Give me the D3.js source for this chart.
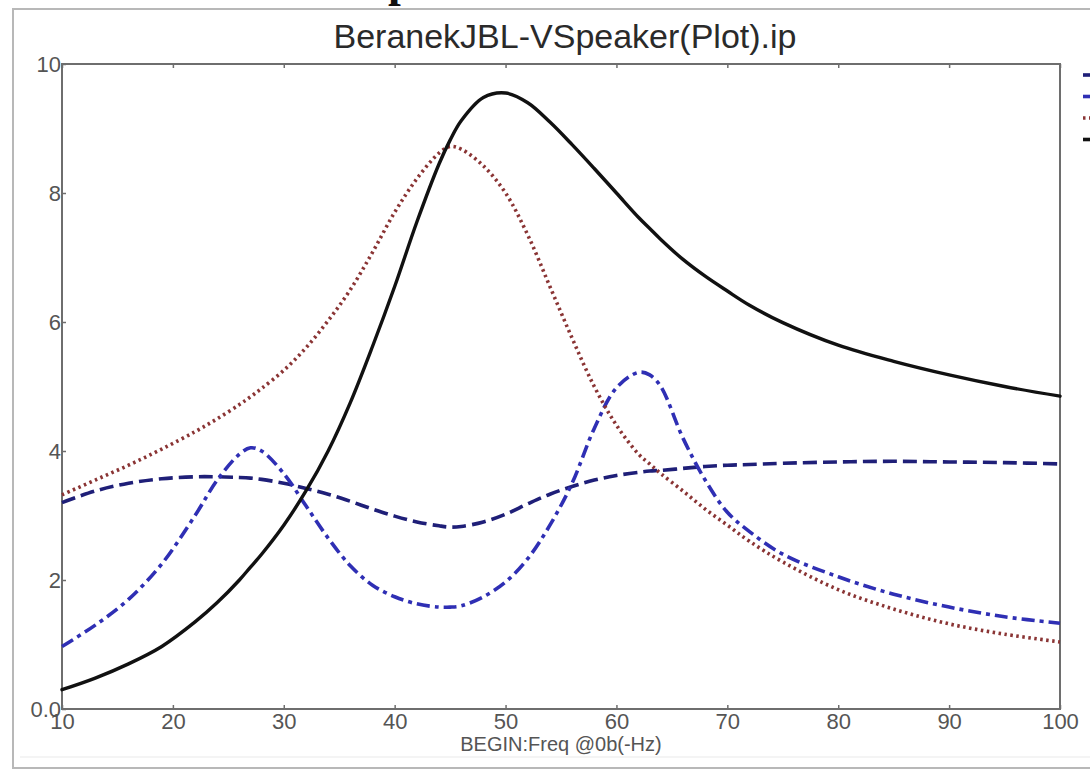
<!DOCTYPE html>
<html>
<head>
<meta charset="utf-8">
<script src="https://cdn.jsdelivr.net/npm/d3@7"></script>
<style>
  html, body { margin: 0; padding: 0; background: #fff; }
  svg { display: block; }
  text { font-family: "Liberation Sans", Arial, sans-serif; }
</style>
</head>
<body>
<svg id="chart" width="1090" height="770"></svg>
<script>
// Frequency axis (Hz) and the four plotted responses
const freq = [10, 13, 16, 19, 22, 24, 26, 27, 28, 30, 32, 34, 36, 38, 40, 42, 44, 45, 46, 48, 50, 52, 54, 56, 58, 60, 62, 63, 64, 66, 68, 70, 72, 75, 80, 85, 90, 95, 100];

const seriesDashed = [3.20, 3.38, 3.50, 3.57, 3.60, 3.60, 3.59, 3.58, 3.56, 3.50, 3.42, 3.33, 3.22, 3.10, 2.99, 2.90, 2.84, 2.82, 2.83, 2.90, 3.02, 3.18, 3.33, 3.45, 3.55, 3.62, 3.67, 3.69, 3.70, 3.73, 3.76, 3.78, 3.79, 3.81, 3.83, 3.84, 3.83, 3.82, 3.80];

const seriesDashDot = [0.97, 1.30, 1.70, 2.25, 3.00, 3.55, 3.95, 4.05, 4.00, 3.65, 3.15, 2.65, 2.22, 1.92, 1.74, 1.63, 1.58, 1.58, 1.60, 1.74, 1.97, 2.33, 2.85, 3.50, 4.35, 4.98, 5.22, 5.18, 5.00, 4.20, 3.55, 3.05, 2.75, 2.40, 2.05, 1.78, 1.58, 1.43, 1.33];

const seriesDotted = [3.32, 3.55, 3.78, 4.03, 4.30, 4.50, 4.72, 4.84, 4.97, 5.25, 5.60, 6.02, 6.50, 7.08, 7.70, 8.22, 8.62, 8.72, 8.68, 8.42, 8.00, 7.35, 6.55, 5.75, 5.00, 4.40, 3.95, 3.80, 3.65, 3.38, 3.10, 2.85, 2.60, 2.28, 1.85, 1.55, 1.32, 1.16, 1.04];

const seriesSolid = [0.30, 0.48, 0.70, 0.97, 1.35, 1.65, 2.00, 2.20, 2.40, 2.85, 3.38, 4.00, 4.75, 5.62, 6.55, 7.55, 8.45, 8.82, 9.12, 9.48, 9.55, 9.40, 9.10, 8.75, 8.38, 8.00, 7.62, 7.45, 7.28, 6.97, 6.71, 6.48, 6.26, 5.99, 5.64, 5.39, 5.18, 5.00, 4.85];

const xTicks = [10, 20, 30, 40, 50, 60, 70, 80, 90, 100];
const yTicks = [0, 2, 4, 6, 8, 10];
const yTickLabels = ["0.0", "2", "4", "6", "8", "10"];

const titleText = "BeranekJBL-VSpeaker(Plot).ip";
const xTitleText = "BEGIN:Freq @0b(-Hz)";

const svg = d3.select("#chart");

// Outer panel frame
svg.append("rect")
  .attr("x", 13).attr("y", 9)
  .attr("width", 1100).attr("height", 759)
  .attr("fill", "#fff")
  .attr("stroke", "#b8b8b8").attr("stroke-width", 2);
svg.append("line")
  .attr("x1", 20).attr("x2", 1090).attr("y1", 757).attr("y2", 757)
  .attr("stroke", "#f0f0f0").attr("stroke-width", 1.5);

// Fragment of text running off the top edge
svg.append("text")
  .attr("x", 388).attr("y", -4)
  .style("font-family", "'Liberation Serif', serif")
  .style("font-size", "46px").style("font-weight", "bold")
  .attr("fill", "#111")
  .text("p");

const x = d3.scaleLinear().domain([10, 100]).range([62, 1060]);
const y = d3.scaleLinear().domain([0, 10]).range([709, 64]);

const axisColor = "#6e6e6e";
const labelColor = "#555";

// Plot box
svg.append("rect")
  .attr("x", x(10)).attr("y", y(10))
  .attr("width", x(100) - x(10)).attr("height", y(0) - y(10))
  .attr("fill", "none").attr("stroke", axisColor).attr("stroke-width", 2);

// Bottom axis: small inward ticks, labels below
const xAxisB = svg.append("g").attr("transform", `translate(0,${y(0)})`)
  .call(d3.axisBottom(x).tickValues(xTicks).tickSize(-4).tickPadding(4).tickFormat(d3.format("d")));
// Top axis ticks
const xAxisT = svg.append("g").attr("transform", `translate(0,${y(10)})`)
  .call(d3.axisTop(x).tickValues(xTicks).tickSize(-4).tickFormat(""));
// Left axis
const yAxisL = svg.append("g").attr("transform", `translate(${x(10)},0)`)
  .call(d3.axisLeft(y).tickValues(yTicks).tickSize(-4).tickPadding(1)
    .tickFormat((d, i) => yTickLabels[i]));

[xAxisB, xAxisT, yAxisL].forEach(g => {
  g.select(".domain").remove();
  g.selectAll(".tick line").attr("stroke", axisColor).attr("stroke-width", 1.5);
  g.selectAll(".tick text").attr("fill", labelColor).style("font-size", "22px")
    .style("font-family", "'Liberation Sans', Arial, sans-serif");
});
xAxisB.selectAll(".tick text").attr("dy", "0.72em");
yAxisL.selectAll(".tick text").attr("dy", "0.36em");

// Titles
svg.append("text")
  .attr("x", 565).attr("y", 48)
  .attr("text-anchor", "middle")
  .attr("fill", "#2a2a2a")
  .style("font-size", "34px")
  .text(titleText);

svg.append("text")
  .attr("x", 561).attr("y", 751)
  .attr("text-anchor", "middle")
  .attr("fill", labelColor)
  .style("font-size", "20px")
  .text(xTitleText);

// Curves
const series = [
  { values: seriesDashed,  color: "#1f1f78", dash: "14,6",     cap: "butt" },
  { values: seriesDashDot, color: "#2f2fb4", dash: "13,5,4,5", cap: "butt" },
  { values: seriesDotted,  color: "#8a3434", dash: "2.5,3.5",  cap: "butt" },
  { values: seriesSolid,   color: "#111111", dash: null,       cap: "round" }
];

const line = d3.line()
  .x((d, i) => x(freq[i]))
  .y(d => y(d))
  .curve(d3.curveCatmullRom.alpha(0.5));

const plotArea = svg.append("g");
series.forEach(s => {
  plotArea.append("path")
    .datum(s.values)
    .attr("d", line)
    .attr("fill", "none")
    .attr("stroke", s.color)
    .attr("stroke-width", s.dash ? 3.6 : 3.4)
    .attr("stroke-linecap", s.cap)
    .attr("stroke-linejoin", "round")
    .attr("stroke-dasharray", s.dash);
});

// Legend swatches at the right edge
const legend = svg.append("g");
series.forEach((s, i) => {
  legend.append("line")
    .attr("x1", 1083).attr("x2", 1100)
    .attr("y1", 75 + i * 21.5).attr("y2", 75 + i * 21.5)
    .attr("stroke", s.color).attr("stroke-width", 3.6)
    .attr("stroke-dasharray", i === 2 ? "2.5,3.5" : null);
});
</script>
</body>
</html>
